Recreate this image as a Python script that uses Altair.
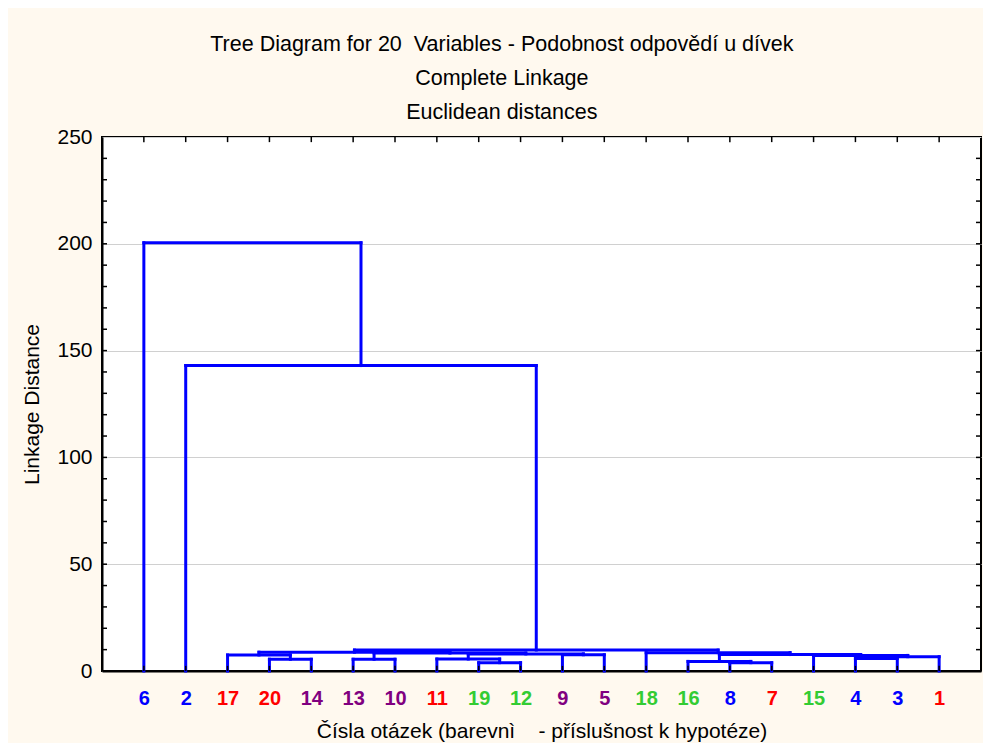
import json
import altair as alt
import pandas as pd

# ---------------- data ----------------
leaf_labels = [6, 2, 17, 20, 14, 13, 10, 11, 19, 12, 9, 5, 18, 16, 8, 7, 15, 4, 3, 1]
leaf_group = ["blue", "blue", "red", "red", "purple", "purple", "purple", "red", "green", "green",
              "purple", "purple", "green", "green", "blue", "red", "green", "blue", "blue", "red"]

# merges of the tree (complete linkage): node name, left child, right child, linkage distance
merge_node = ["a", "b", "c", "d", "e", "f", "g", "h", "i", "j", "k", "l", "m", "n", "o", "p", "q", "r", "s"]
merge_left = [19, 8, 16, 20, 13, 11, 4, "g", 15, 17, 9, "c", "f", "e", 18, "j", "p", 2, 6]
merge_right = [12, 7, "b", 14, 10, "a", 3, 1, "h", "d", 5, "i", "k", "m", "l", "n", "o", "q", "r"]
merge_dist = [3.9, 3.9, 4.5, 5.5, 5.5, 5.6, 5.9, 6.7, 7.3, 7.5, 7.6, 7.7, 8.0, 8.4, 8.6, 8.8, 9.8, 143.0, 200.5]

y_major = [0, 50, 100, 150, 200, 250]
y_minor = list(range(10, 250, 10))

title_lines = ["Tree Diagram for 20\u00a0 Variables - Podobnost odpovědí u dívek",
               "Complete Linkage",
               "Euclidean distances"]
x_title = "Čísla otázek (barevnì\u00a0\u00a0\u00a0 - příslušnost k hypotéze)"
y_title = "Linkage Distance"

group_colors = {"red": "#FF0000", "purple": "#800080", "green": "#33CC33", "blue": "#0000FF"}

# ---------------- tree segments ----------------
pos = {lab: i + 1 for i, lab in enumerate(leaf_labels)}
hgt = {lab: 0.0 for lab in leaf_labels}
segs = []
for node, l, r, h in zip(merge_node, merge_left, merge_right, merge_dist):
    for c in (l, r):
        segs.append({"x": pos[c], "x2": pos[c], "y": hgt[c], "y2": h})
    segs.append({"x": pos[l], "x2": pos[r], "y": h, "y2": h})
    pos[node] = (pos[l] + pos[r]) / 2.0
    hgt[node] = h
seg_df = pd.DataFrame(segs)

n = len(leaf_labels)
x_max = n + 1
y_max = 250
tx = 0.12   # inward tick length in x units
ty = 2.4    # inward tick length in y units
ticks = []
for i in range(1, n + 1):
    ticks.append({"x": i, "x2": i, "y": 0, "y2": ty})
    ticks.append({"x": i, "x2": i, "y": y_max, "y2": y_max - ty})
for v in y_minor:
    ticks.append({"x": 0, "x2": tx, "y": v, "y2": v})
    ticks.append({"x": x_max - tx, "x2": x_max, "y": v, "y2": v})
tick_df = pd.DataFrame(ticks)

# ---------------- axes ----------------
label_expr = json.dumps([""] + [str(l) for l in leaf_labels]) + "[datum.value]"
conds = []
for g in ["red", "purple", "green"]:
    idx = [i + 1 for i, gg in enumerate(leaf_group) if gg == g]
    conds.append({"test": "indexof(%s, datum.value) >= 0" % json.dumps(idx), "value": group_colors[g]})
label_color = {"condition": conds, "value": group_colors["blue"]}

FONT = "Liberation Sans"

x_enc = alt.X("x:Q",
              scale=alt.Scale(domain=[0, x_max], nice=False, zero=False),
              axis=alt.Axis(values=list(range(1, n + 1)), labelExpr=label_expr,
                            labelColor=label_color, labelFont=FONT, labelFontSize=20,
                            labelFontWeight="bold", labelPadding=17, labelFlush=False,
                            labelOverlap=False, ticks=False, tickSize=0, grid=False,
                            domainColor="black", domainWidth=2,
                            title=x_title, titleFont=FONT, titleFontSize=21,
                            titleFontWeight="normal", titleColor="black", titlePadding=12))
y_enc = alt.Y("y:Q",
              scale=alt.Scale(domain=[0, y_max], nice=False),
              axis=alt.Axis(values=y_major, labelFont=FONT, labelFontSize=21, labelColor="black",
                            labelPadding=10, ticks=False, tickSize=0, grid=True,
                            gridColor="#D0D0D0", gridWidth=1,
                            domainColor="black", domainWidth=2,
                            title=y_title, titleFont=FONT, titleFontSize=21,
                            titleFontWeight="normal", titleColor="black", titlePadding=14))

tree = alt.Chart(seg_df).mark_rule(color="#0000FF", strokeWidth=3, strokeCap="square").encode(
    x=x_enc, x2="x2:Q", y=y_enc, y2="y2:Q")
tick_layer = alt.Chart(tick_df).mark_rule(color="black", strokeWidth=1.5).encode(
    x=x_enc, x2="x2:Q", y=y_enc, y2="y2:Q")

chart = alt.layer(tree, tick_layer).properties(
    width=879, height=534,
    autosize=alt.AutoSizeParams(type="none"),
    padding={"left": 94, "top": 129, "right": 2, "bottom": 72},
    background="#FFF9EF",
    title=alt.TitleParams(text=title_lines, font=FONT, fontSize=21.5, fontWeight="normal",
                          color="black", lineHeight=34, anchor="middle", frame="bounds",
                          offset=3),
).configure_view(fill="white", stroke="black", strokeWidth=2)

chart.save("out.html", embed_options={"renderer": "svg", "actions": False})
